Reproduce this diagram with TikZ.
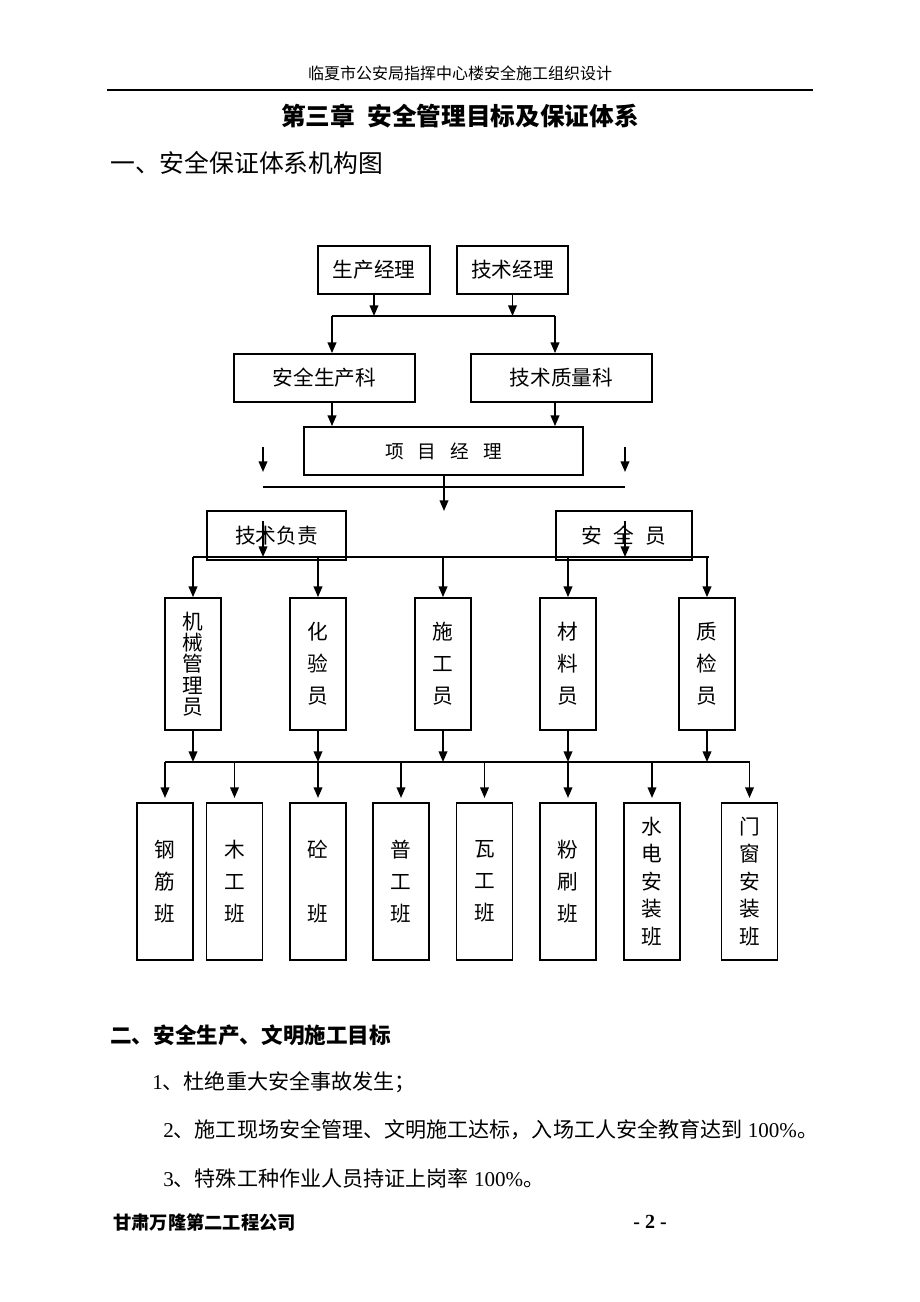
\documentclass[tikz,border=0pt]{standalone}
\usepackage{fontspec}
\setmainfont{Noto Sans CJK SC}
\newfontfamily\lat{Liberation Serif}
\usetikzlibrary{arrows.meta}
\begin{document}
\begin{tikzpicture}[x=0.75pt,y=-0.75pt,
  box/.style={draw, line width=1.3pt, inner sep=0pt, align=center, font=\fontsize{15.5}{20}\selectfont},
  hbox/.style={box, minimum height=36pt},
  vbox/.style={box, minimum width=42pt, minimum height=99pt, font=\fontsize{15.5}{24}\selectfont},
  bbox/.style={box, minimum width=42pt, minimum height=118pt, font=\fontsize{15.5}{24}\selectfont},
  arr/.style={line width=1.2pt, -{Triangle[length=8pt,width=6.5pt]}},
  ln/.style={line width=1.2pt}]
\path[use as bounding box, fill=white] (0,0) rectangle (920,1302);

% header
\node (hdr) at (460,73) {\fontsize{12}{14}\selectfont 临夏市公安局指挥中心楼安全施工组织设计};
\coordinate (rl) at (107,90);
\coordinate (rr) at (813,90);
\draw[line width=1pt] (rl) -- (rr);
\node (title) at (460,116) {\fontsize{18.5}{20}\selectfont\bfseries 第三章\hspace{0.5em}安全管理目标及保证体系};
\node[anchor=west, inner sep=0pt] (sec1) at (110,163) {\fontsize{18.6}{20}\selectfont 一、安全保证体系机构图};

% top boxes
\node[hbox, minimum width=84pt] (pm) at (374,270) {生产经理};
\node[hbox, minimum width=83pt] (tm) at (512.5,270) {技术经理};
\coordinate (h1l) at (332,316);
\coordinate (h1r) at (555,316);
\draw[arr] (pm.south) -- (pm.south |- h1l);
\draw[arr] (tm.south) -- (tm.south |- h1l);
\draw[ln] (h1l) -- (h1r);

\node[hbox, minimum width=135.75pt] (aqk) at (324.5,378) {安全生产科};
\node[hbox, minimum width=135.75pt] (jsk) at (561.5,378) {技术质量科};
\draw[arr] (h1l) -- (h1l |- aqk.north);
\draw[arr] (h1r) -- (h1r |- jsk.north);

\node[hbox, minimum width=209pt, font=\fontsize{14}{18}\selectfont] (xm) at (443.5,451) {项\hspace{0.75em}目\hspace{0.75em}经\hspace{0.75em}理};
\draw[arr] (aqk.south -| h1l) -- (xm.north -| h1l);
\draw[arr] (jsk.south -| h1r) -- (xm.north -| h1r);

% side small arrows and line
\coordinate (s1t) at (263,447);
\coordinate (s1b) at (263,472);
\coordinate (s2t) at (625,447);
\coordinate (s2b) at (625,472);
\draw[arr] (s1t) -- (s1b);
\draw[arr] (s2t) -- (s2b);
\coordinate (h2l) at (263,487);
\coordinate (h2r) at (625,487);
\draw[ln] (h2l) -- (h2r);
\coordinate (xmend) at (444,511);
\draw[arr] (xm.south -| xmend) -- (xmend);

% second level
\node[box, minimum width=104.25pt, minimum height=36.75pt] (jf) at (276.5,535.5) {技术负责};
\node[box, minimum width=102pt, minimum height=36.75pt] (aq) at (624,535.5) {安\hspace{0.55em}全\hspace{0.55em}员};
\coordinate (h3l) at (193,557);
\coordinate (h3r) at (709,557);
\coordinate (i1t) at (263,521);
\coordinate (i2t) at (625,521);
\draw[arr] (i1t) -- (i1t |- h3l);
\draw[arr] (i2t) -- (i2t |- h3l);
\draw[ln] (h3l) -- (h3r);

% middle row
\node[vbox, font=\fontsize{15.5}{16}\selectfont] (m1) at (193,664) {机\\械\\管\\理\\员};
\node[vbox] (m2) at (318,664) {化\\验\\员};
\node[vbox] (m3) at (443,664) {施\\工\\员};
\node[vbox] (m4) at (568,664) {材\\料\\员};
\node[vbox] (m5) at (707,664) {质\\检\\员};
\foreach \m in {m1,m2,m3,m4,m5} {
  \draw[arr] (\m.north |- h3l) -- (\m.north);
}

% bottom connector line
\coordinate (h4l) at (165,762);
\coordinate (h4r) at (749.5,762);
\foreach \m in {m1,m2,m3,m4,m5} {
  \draw[arr] (\m.south) -- (\m.south |- h4l);
}
\draw[ln] (h4l) -- (h4r);

% bottom row
\node[bbox] (b1) at (165,881.5) {钢\\筋\\班};
\node[bbox] (b2) at (234.5,881.5) {木\\工\\班};
\node[bbox] (b3) at (318,881.5) {砼\\[24pt]班};
\node[bbox] (b4) at (401,881.5) {普\\工\\班};
\node[bbox] (b5) at (484.5,881.5) {瓦\\工\\班};
\node[bbox] (b6) at (568,881.5) {粉\\刷\\班};
\node[bbox, font=\fontsize{15.5}{20.6}\selectfont] (b7) at (652,881.5) {水\\电\\安\\装\\班};
\node[bbox, font=\fontsize{15.5}{20.6}\selectfont] (b8) at (749.5,881.5) {门\\窗\\安\\装\\班};
\foreach \b in {b1,b2,b3,b4,b5,b6,b7,b8} {
  \draw[arr] (\b.north |- h4l) -- ([yshift=3pt]\b.north);
}

% text section 2
\node[anchor=west, inner sep=0pt] (sec2) at (110,1035) {\fontsize{16.2}{18}\selectfont\bfseries 二、安全生产、文明施工目标};
\node[anchor=west, inner sep=0pt] (it1) at (152,1082) {\fontsize{15.8}{18}\selectfont {\lat 1}、杜绝重大安全事故发生；};
\node[anchor=west, inner sep=0pt] (it2) at (163,1130) {\fontsize{15.8}{18}\selectfont {\lat 2}、施工现场安全管理、文明施工达标，入场工人安全教育达到{\lat\ 100\%}。};
\node[anchor=west, inner sep=0pt] (it3) at (163,1178) {\fontsize{15.8}{18}\selectfont {\lat 3}、特殊工种作业人员持证上岗率{\lat\ 100\%}。};

% footer
\node[anchor=west, inner sep=0pt] (ftl) at (113,1222) {\fontsize{13.7}{16}\selectfont\bfseries 甘肃万隆第二工程公司};
\node (ftr) at (650,1222) {\fontsize{15}{16}\selectfont\lat\bfseries - 2 -};
\end{tikzpicture}
\end{document}
